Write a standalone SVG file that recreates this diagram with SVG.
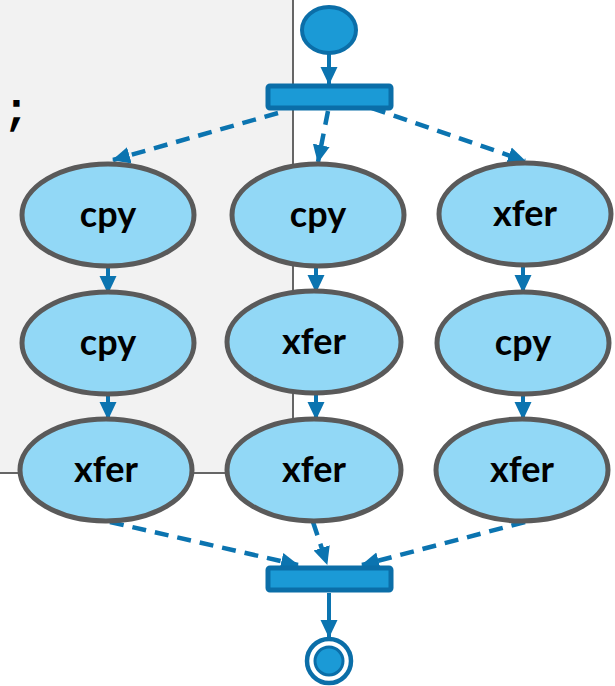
<svg xmlns="http://www.w3.org/2000/svg" width="615" height="686" viewBox="0 0 615 686">
<defs>
<marker id="ah" markerUnits="userSpaceOnUse" markerWidth="18" markerHeight="18" refX="17" refY="8.5" orient="auto" viewBox="0 0 18 17">
<path d="M0,0 L18,8.5 L0,17 z" fill="#0b74b0"/>
</marker>
<style>
.panel{fill:#f2f2f2;stroke:#666;stroke-width:2}
.act{fill:#92d8f6;stroke:#5a5a5a;stroke-width:5}
.lbl{font-family:Lato,"Liberation Sans",sans-serif;font-weight:bold;font-size:36px;fill:#000;text-anchor:middle}
.bar{fill:#1b9ad6;stroke:#0b6ea8;stroke-width:5}
.solid{stroke:#0b74b0;stroke-width:4;fill:none;marker-end:url(#ah)}
.dash{stroke:#0b74b0;stroke-width:4.5;fill:none;stroke-dasharray:14 9;marker-end:url(#ah)}
.code{font-family:"Liberation Mono",monospace;font-weight:bold;font-size:44px;fill:#000}
</style>
</defs>
<g id="panel">
<path class="panel" d="M-2,-2 H293 V473 H-2 Z"/>
<text class="code" x="3" y="124">;</text>
</g>
<g id="connectors">
<line class="solid" x1="329" y1="54" x2="329" y2="84"/>
<line class="dash" x1="278" y1="113" x2="113" y2="160"/>
<line class="dash" x1="328" y1="111" x2="318" y2="162"/>
<line class="dash" x1="372" y1="108" x2="525" y2="161"/>
<line class="solid" x1="108" y1="267" x2="108" y2="293"/>
<line class="solid" x1="108" y1="395" x2="108" y2="419"/>
<line class="solid" x1="316" y1="267" x2="316" y2="292"/>
<line class="solid" x1="316" y1="394" x2="316" y2="419"/>
<line class="solid" x1="523" y1="266" x2="523" y2="292"/>
<line class="solid" x1="523" y1="394" x2="523" y2="419"/>
<line class="dash" x1="110" y1="522" x2="298" y2="565"/>
<line class="dash" x1="313" y1="522" x2="327" y2="564"/>
<line class="dash" x1="525" y1="522" x2="362" y2="565"/>
<line class="solid" x1="329" y1="593" x2="329" y2="637"/>
</g>
<g id="start"><ellipse cx="329" cy="30" rx="27" ry="23" fill="#1b9ad6" stroke="#0b6ea8" stroke-width="4"/></g>
<g id="fork"><rect class="bar" x="268" y="86" width="123" height="22" rx="2"/></g>
<g id="a11"><ellipse class="act" cx="108" cy="215" rx="86" ry="51"/><text class="lbl" x="108" y="227">cpy</text></g>
<g id="a12"><ellipse class="act" cx="108" cy="343" rx="86" ry="51"/><text class="lbl" x="108" y="355">cpy</text></g>
<g id="a13"><ellipse class="act" cx="106" cy="470" rx="86" ry="51"/><text class="lbl" x="106" y="482">xfer</text></g>
<g id="a21"><ellipse class="act" cx="318" cy="215" rx="86" ry="51"/><text class="lbl" x="318" y="227">cpy</text></g>
<g id="a22"><ellipse class="act" cx="314" cy="342" rx="87" ry="51"/><text class="lbl" x="314" y="354">xfer</text></g>
<g id="a23"><ellipse class="act" cx="314" cy="470" rx="87" ry="51"/><text class="lbl" x="314" y="482">xfer</text></g>
<g id="a31"><ellipse class="act" cx="525" cy="214" rx="86" ry="51"/><text class="lbl" x="525" y="226">xfer</text></g>
<g id="a32"><ellipse class="act" cx="523" cy="343" rx="86" ry="51"/><text class="lbl" x="523" y="355">cpy</text></g>
<g id="a33"><ellipse class="act" cx="522" cy="470" rx="86" ry="51"/><text class="lbl" x="522" y="482">xfer</text></g>
<g id="join"><rect class="bar" x="268" y="568" width="123" height="22" rx="2"/></g>
<g id="end">
<circle cx="329" cy="661" r="22" fill="#fff" stroke="#0b6ea8" stroke-width="4.5"/>
<circle cx="329" cy="661" r="14" fill="#1b9ad6" stroke="#0b6ea8" stroke-width="3"/>
</g>
</svg>
